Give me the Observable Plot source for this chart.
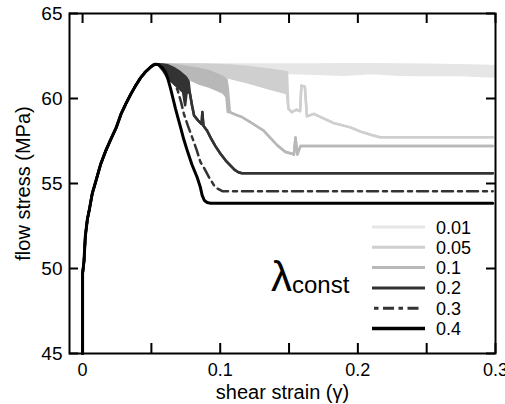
<!DOCTYPE html>
<html><head><meta charset="utf-8">
<script src="https://cdn.jsdelivr.net/npm/d3@7"></script>
<script src="https://cdn.jsdelivr.net/npm/@observablehq/plot@0.6"></script>
<style>html,body{margin:0;padding:0;background:#fff;} svg{display:block}</style>
</head><body><div id="chart"></div>
<script>
// ---- series styling / legend ----
const seriesNames  = ["0.01", "0.05", "0.1", "0.2", "0.3", "0.4"];
const seriesColors = ["#e6e6e6", "#cfcfcf", "#b8b8b8", "#333333", "#333333", "#000000"];
const seriesDash   = [null, null, null, null, "11,5,4,5", null];
const seriesWidths = [2.5, 2.5, 2.5, 2.5, 2.5, 3];

// ---- axis ticks ----
const xTicks = [0, 0.05, 0.1, 0.15, 0.2, 0.25, 0.3];
const xTickLabels = [0, 0.1, 0.2, 0.3];
const yTicks = [45, 50, 55, 60, 65];

// ---- shared elastic / hardening branch (all λ) ----
const riseX = [0, 0, 0.001, 0.002, 0.0035, 0.005, 0.007, 0.0095, 0.013, 0.0167, 0.0205, 0.0245, 0.028, 0.0315, 0.035, 0.0385, 0.042, 0.0455, 0.049, 0.0515, 0.053];
const riseY = [45, 49.7, 50.4, 51.9, 52.9, 53.5, 54.4, 55.1, 56.1, 56.9, 57.6, 58.3, 59.1, 59.7, 60.25, 60.75, 61.2, 61.55, 61.82, 61.97, 62.02];

// ---- λ = 0.01 (noisy band: lo / hi envelope) ----
const lam001X  = [0.055, 0.07, 0.09, 0.11, 0.13, 0.15, 0.17, 0.19, 0.21, 0.23, 0.25, 0.27, 0.29, 0.3];
const lam001Hi = [62.02, 62.02, 62.02, 62.0, 62.0, 62.0, 62.0, 62.02, 62.02, 62.0, 61.98, 61.95, 61.92, 61.9];
const lam001Lo = [62.0, 61.8, 61.7, 61.6, 61.65, 61.5, 61.45, 61.4, 61.5, 61.4, 61.38, 61.4, 61.32, 61.3];

// ---- λ = 0.05 ----
const lam005X  = [0.055, 0.07, 0.09, 0.1075, 0.12, 0.135, 0.1485, 0.1495, 0.152, 0.1555, 0.158, 0.159, 0.1615, 0.163, 0.168, 0.1825, 0.1946, 0.202, 0.21, 0.216, 0.298];
const lam005Hi = [62.02, 62.0, 61.98, 61.94, 61.85, 61.7, 61.55, 59.4, 59.2, 59.35, 59.25, 60.76, 60.7, 58.95, 59.1, 58.55, 58.3, 58.05, 57.85, 57.72, 57.72];
const lam005Lo = [62.0, 61.7, 61.45, 61.2, 60.95, 60.6, 60.3, 59.4, 59.2, 59.35, 59.25, 60.76, 60.7, 58.95, 59.1, 58.55, 58.3, 58.05, 57.85, 57.72, 57.72];

// ---- λ = 0.1 ----
const lam01X  = [0.055, 0.06, 0.068, 0.076, 0.084, 0.092, 0.098, 0.102, 0.1045, 0.1055, 0.107, 0.111, 0.116, 0.122, 0.1317, 0.1414, 0.1474, 0.1523, 0.1535, 0.1547, 0.156, 0.1583, 0.298];
const lam01Hi = [62.02, 62.0, 61.95, 61.85, 61.75, 61.6, 61.4, 61.25, 61.1, 60.6, 59.2, 59.05, 58.9, 58.6, 58.1, 57.25, 56.85, 56.75, 56.7, 57.7, 56.7, 57.2, 57.2];
const lam01Lo = [62.0, 61.8, 61.5, 61.2, 60.9, 60.7, 60.5, 60.35, 60.1, 59.2, 59.2, 59.05, 58.9, 58.6, 58.1, 57.25, 56.85, 56.75, 56.7, 57.7, 56.7, 57.2, 57.2];

// ---- λ = 0.2 ----
const lam02X  = [0.055, 0.058, 0.062, 0.066, 0.07, 0.073, 0.0745, 0.0755, 0.077, 0.078, 0.0795, 0.081, 0.084, 0.0865, 0.087, 0.0878, 0.0905, 0.093, 0.0965, 0.1002, 0.104, 0.1075, 0.1105, 0.1135, 0.116, 0.298];
const lam02Hi = [62.02, 62.0, 61.95, 61.8, 61.6, 61.4, 61.3, 61.2, 61.0, 60.3, 59.6, 59.0, 58.7, 58.5, 59.2, 58.4, 58.1, 57.7, 57.2, 56.75, 56.35, 56.05, 55.8, 55.65, 55.6, 55.6];
const lam02Lo = [62.0, 61.7, 61.2, 60.9, 60.6, 60.4, 59.6, 60.3, 60.4, 60.3, 59.6, 59.0, 58.7, 58.5, 59.2, 58.4, 58.1, 57.7, 57.2, 56.75, 56.35, 56.05, 55.8, 55.65, 55.6, 55.6];

// ---- λ = 0.3 ----
const lam03X = [0.055, 0.059, 0.063, 0.066, 0.069, 0.0715, 0.0736, 0.0765, 0.0797, 0.083, 0.0857, 0.088, 0.092, 0.0954, 0.098, 0.1015, 0.298];
const lam03Y = [62.0, 61.8, 61.4, 61.0, 60.5, 59.8, 59.1, 58.4, 57.7, 56.95, 56.25, 55.95, 55.35, 54.9, 54.7, 54.55, 54.55];

// ---- λ = 0.4 ----
const lam04X = [0.055, 0.058, 0.0603, 0.062, 0.0639, 0.0657, 0.0675, 0.0695, 0.0712, 0.0735, 0.076, 0.0795, 0.0833, 0.0855, 0.0869, 0.0885, 0.0905, 0.093, 0.298];
const lam04Y = [62.0, 61.8, 61.55, 61.15, 60.6, 60.0, 59.4, 58.8, 58.3, 57.6, 56.95, 56.1, 55.35, 54.8, 54.3, 54.0, 53.88, 53.84, 53.84];

// ---- build tables ----
function buildRows(xs, lo, hi) {
  const rows = riseX.map((x, i) => ({x, lo: riseY[i], hi: riseY[i]}));
  xs.forEach((x, i) => rows.push({x, lo: lo[i], hi: hi[i]}));
  return rows;
}
const seriesRows = [
  buildRows(lam001X, lam001Lo, lam001Hi),
  buildRows(lam005X, lam005Lo, lam005Hi),
  buildRows(lam01X, lam01Lo, lam01Hi),
  buildRows(lam02X, lam02Lo, lam02Hi),
  buildRows(lam03X, lam03Y, lam03Y),
  buildRows(lam04X, lam04Y, lam04Y)
];

// ---- layout ----
const W = 505, H = 404, mL = 69, mR = 10, mT = 13, mB = 51;
const fw = W - mL - mR, fh = H - mT - mB;
const font = "'Liberation Sans', Arial, Helvetica, sans-serif";

const marks = [];
seriesRows.forEach((rows, i) => {
  const noisy = rows.some(r => r.lo !== r.hi);
  if (noisy) marks.push(Plot.areaY(rows, {x: "x", y1: "lo", y2: "hi", fill: seriesColors[i]}));
  marks.push(Plot.line(rows, {x: "x", y: "lo", stroke: seriesColors[i], strokeWidth: seriesWidths[i], strokeDasharray: seriesDash[i], strokeLinejoin: "round"}));
  if (noisy) marks.push(Plot.line(rows, {x: "x", y: "hi", stroke: seriesColors[i], strokeWidth: seriesWidths[i], strokeLinejoin: "round"}));
});

// inward ticks on all four sides
marks.push(
  Plot.tickX(xTicks, {x: d => d, insetTop: fh - 10, stroke: "black", strokeWidth: 2}),
  Plot.tickX(xTicks, {x: d => d, insetBottom: fh - 10, stroke: "black", strokeWidth: 2}),
  Plot.tickY(yTicks, {y: d => d, insetRight: fw - 9, stroke: "black", strokeWidth: 2}),
  Plot.tickY(yTicks, {y: d => d, insetLeft: fw - 9, stroke: "black", strokeWidth: 2}),
  Plot.axisX(xTickLabels, {tickSize: 0, tickPadding: 10, fontSize: 18, label: null, tickFormat: d => String(d)}),
  Plot.axisY(yTicks, {tickSize: 0, tickPadding: 7, fontSize: 19, label: null}),
  Plot.text(["shear strain (γ)"], {frameAnchor: "bottom", lineAnchor: "middle", textAnchor: "middle", dy: 39, fontSize: 20, fill: "black"}),
  Plot.text(["flow stress (MPa)"], {frameAnchor: "left", lineAnchor: "middle", textAnchor: "middle", dx: -46, rotate: -90, fontSize: 20, fill: "black"}),
  Plot.frame({stroke: "black", strokeWidth: 2})
);

const plot = Plot.plot({
  width: W, height: H,
  marginLeft: mL, marginRight: mR, marginTop: mT, marginBottom: mB,
  style: {fontFamily: font, background: "white", color: "black", overflow: "hidden"},
  x: {domain: [-0.0095, 0.3]},
  y: {domain: [45, 65]},
  marks
});

// ---- legend (inside the frame) ----
const svg = d3.select(plot);
const lg = svg.append("g").attr("font-family", font).attr("fill", "black").attr("text-anchor", "start");
seriesNames.forEach((name, i) => {
  const cy = 227 + i * 20.3;
  const dashed = seriesDash[i] != null;
  lg.append("line")
    .attr("x1", dashed ? 374 : 372).attr("x2", dashed ? 418.5 : 425)
    .attr("y1", cy).attr("y2", cy)
    .attr("stroke", seriesColors[i])
    .attr("stroke-width", i === 5 ? 3.3 : 3)
    .attr("stroke-dasharray", dashed ? "4.5,4.5,11,4.5" : null);
  lg.append("text").attr("x", 436).attr("y", cy + 6.5).attr("font-size", 18).text(name);
});
const lam = lg.append("text").attr("x", 271).attr("y", 291);
lam.append("tspan").attr("font-size", 42).text("λ");
lam.append("tspan").attr("font-size", 24).attr("dy", 2).text("const");

document.getElementById("chart").appendChild(plot);
</script>
</body></html>
